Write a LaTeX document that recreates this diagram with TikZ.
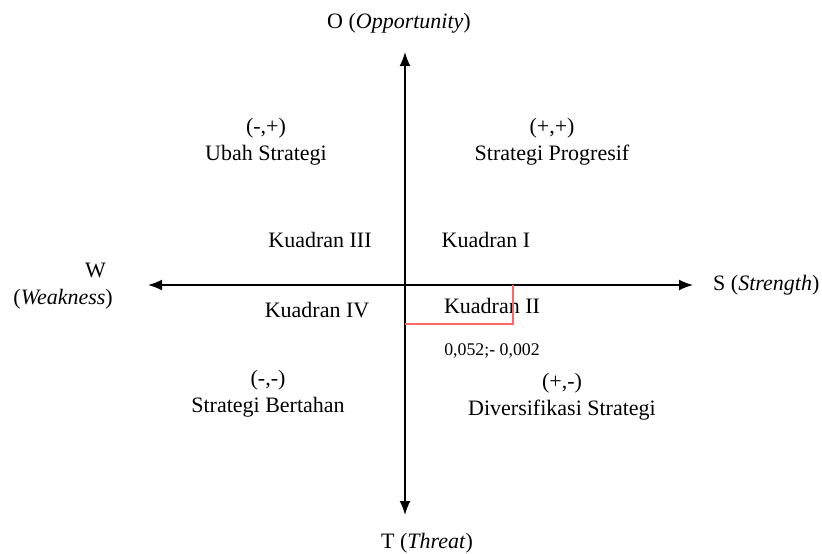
\documentclass[tikz,border=0pt]{standalone}
\usepackage{fontspec}
\setmainfont{Liberation Serif}
\usetikzlibrary{arrows.meta,positioning}

\begin{document}
\begin{tikzpicture}[
		x=1pt,y=-1pt,
		lab/.style={font=\fontsize{22}{27}\selectfont,inner sep=1pt,align=center},
		small/.style={font=\fontsize{17.8}{20}\selectfont,inner sep=1pt},
		axis/.style={-{Latex[length=14pt,width=11pt]},line width=1.6pt},
		redmark/.style={draw=red!60,line width=1.2pt}
		]
		\useasboundingbox (0,0) rectangle (822,554);
		
		% --- Axes
		\coordinate (origin) at (405,285);
		\coordinate (wend) at (148,285);
		\coordinate (send) at (693,285);
		\coordinate (oend) at (405,52);
		\coordinate (tend) at (405,515);
		\draw[axis] (origin) -- (oend);
		\draw[axis] (origin) -- (tend);
		\draw[axis] (origin) -- (wend);
		\draw[axis] (origin) -- (send);
		
		\node[lab] (o) at (399,23) {O (\textit{Opportunity})};
		\node[lab] (t) at (427,543) {T (\textit{Threat})};
		\node[lab,anchor=west] (s) at (712,285) {S (\textit{Strength})};
		\node[lab,align=right,anchor=east] (w) at (114,286) {W\hspace*{7pt}\\(\textit{Weakness})};
		
		% --- Strategy in each quadrant
		\node[lab] (q3s) at (266,142) {(-,+)\\Ubah Strategi};
		\node[lab] (q1s) at (552,142) {(+,+)\\Strategi Progresif};
		\node[lab] (q4s) at (268,394) {(-,-)\\Strategi Bertahan};
		\node[lab] (q2s) at (562,397) {(+,-)\\Diversifikasi Strategi};
		
		\node[lab] (k3) at (320,240) {Kuadran III};
		\node[lab] (k1) at (486,240) {Kuadran I};
		\node[lab] (k4) at (317,310) {Kuadran IV};
		\node[lab] (k2) at (492,306) {Kuadran II};
		
		% --- Position of the point
		\coordinate (pt) at (513,324);
		\draw[redmark] (origin |- pt) -- (pt) -- (pt |- origin);
		\node[small] (val) at (492,351) {0,052;- 0,002};
		
	\end{tikzpicture}
\end{document}
